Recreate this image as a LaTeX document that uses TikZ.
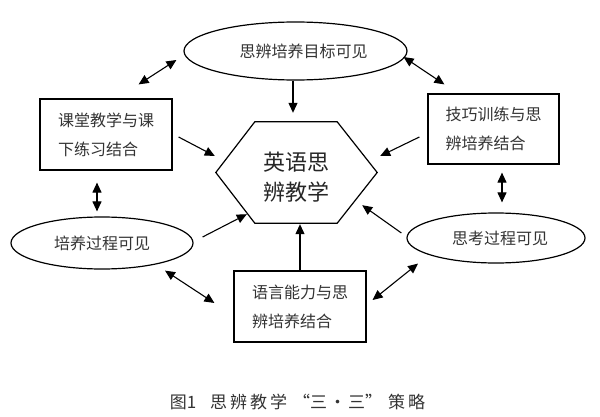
\documentclass[tikz,border=0pt]{standalone}
\usepackage{fontspec}
\newfontfamily\cjk{Noto Sans CJK SC}
\usetikzlibrary{shapes.geometric,arrows.meta,calc}
\begin{document}
\begin{tikzpicture}[x=1pt,y=-1pt,
  txt/.style={font=\cjk\fontsize{16}{29}\selectfont, text=black!80},
  ell/.style={draw, ellipse, line width=1.2pt, inner sep=0pt, txt},
  bx/.style={draw, rectangle, line width=1.2pt, inner sep=0pt, align=left, txt},
  arr/.style={line width=1.1pt, -{Triangle[length=10pt,width=9pt]}},
  darr/.style={line width=1.1pt, {Triangle[length=10pt,width=9pt]}-{Triangle[length=10pt,width=9pt]}}]
\useasboundingbox[fill=white] (0,0) rectangle (600,417);

% nodes
\node[ell, minimum width=223pt, minimum height=58pt] (top) at (295.5,51) {\hspace*{16pt}思辨培养目标可见};
\node[bx, minimum width=132pt, minimum height=71pt] (lbox) at (106,134.5) {课堂教学与课\\下练习结合};
\node[bx, minimum width=131pt, minimum height=70pt] (rbox) at (493.5,129) {技巧训练与思\\辨培养结合};
\node[inner sep=0pt, minimum width=161pt, minimum height=101pt] (hex) at (296.5,172.5) {};
\node[inner sep=0pt, align=center, font=\cjk\fontsize{22}{30}\selectfont, text=black!85] (hext) at (296,177) {英语思\\辨教学};
\node[ell, minimum width=182pt, minimum height=52pt] (lell) at (102,243) {培养过程可见};
\node[ell, minimum width=178pt, minimum height=50pt] (rell) at (496,238) {\hspace*{8pt}思考过程可见};
\node[bx, minimum width=132pt, minimum height=71pt] (bbox) at (300,306.5) {语言能力与思\\辨培养结合};
\node[inner sep=0pt, font=\cjk\fontsize{17}{20}\selectfont, text=black!80] (cap) at (297.5,402)
  {图1\hspace{14pt}思\hspace{3pt}辨\hspace{3pt}教\hspace{3pt}学\hspace{6pt}“三\hspace{2pt}·\hspace{2pt}三”\hspace{6pt}策\hspace{3pt}略};

% hexagon outline
\draw[line width=1.2pt] ($(hex.north west)+(39,0)$) -- ($(hex.north east)+(-40,0)$) -- (hex.east)
  -- ($(hex.south east)+(-40,0)$) -- ($(hex.south west)+(39,0)$) -- (hex.west) -- cycle;

% connectors
\draw[arr] ($(top.south)+(-2.5,0)$) -- ($(top.south |- hex.north)+(-2.5,-9)$);
\draw[darr] ($(top.west)+(-7,9)$) -- ($(lbox.north east)+(-34,-14)$);
\draw[darr] ($(top.east)+(-4,6)$) -- ($(rbox.north west)+(17,-9)$);
\draw[arr] ($(lbox.east)+(6,2.5)$) -- ($(hex.west)+(-1,-16.5)$);
\draw[arr] ($(rbox.west)+(-8,8)$) -- ($(hex.east)+(3,-16.5)$);
\draw[darr] ($(lbox.south)+(-9,12)$) -- ($(lell.north)+(-5,-5)$);
\draw[darr] ($(rbox.south)+(8.5,8)$) -- ($(rell.north)+(6,-10)$);
\draw[arr] ($(lell.east)+(9,-6)$) -- ($(hex.south west)+(31,-9)$);
\draw[arr] ($(rell.west)+(-5,-5)$) -- ($(hex.south east)+(-15,-18)$);
\draw[arr] (bbox.north) -- ($(bbox.north |- hex.south)+(0,1)$);
\draw[darr] ($(lell.south)+(63,1)$) -- ($(bbox.west)+(-19,-3.5)$);
\draw[darr] ($(rell.south)+(-78,0)$) -- ($(bbox.east)+(6,-6.5)$);
\end{tikzpicture}
\end{document}
